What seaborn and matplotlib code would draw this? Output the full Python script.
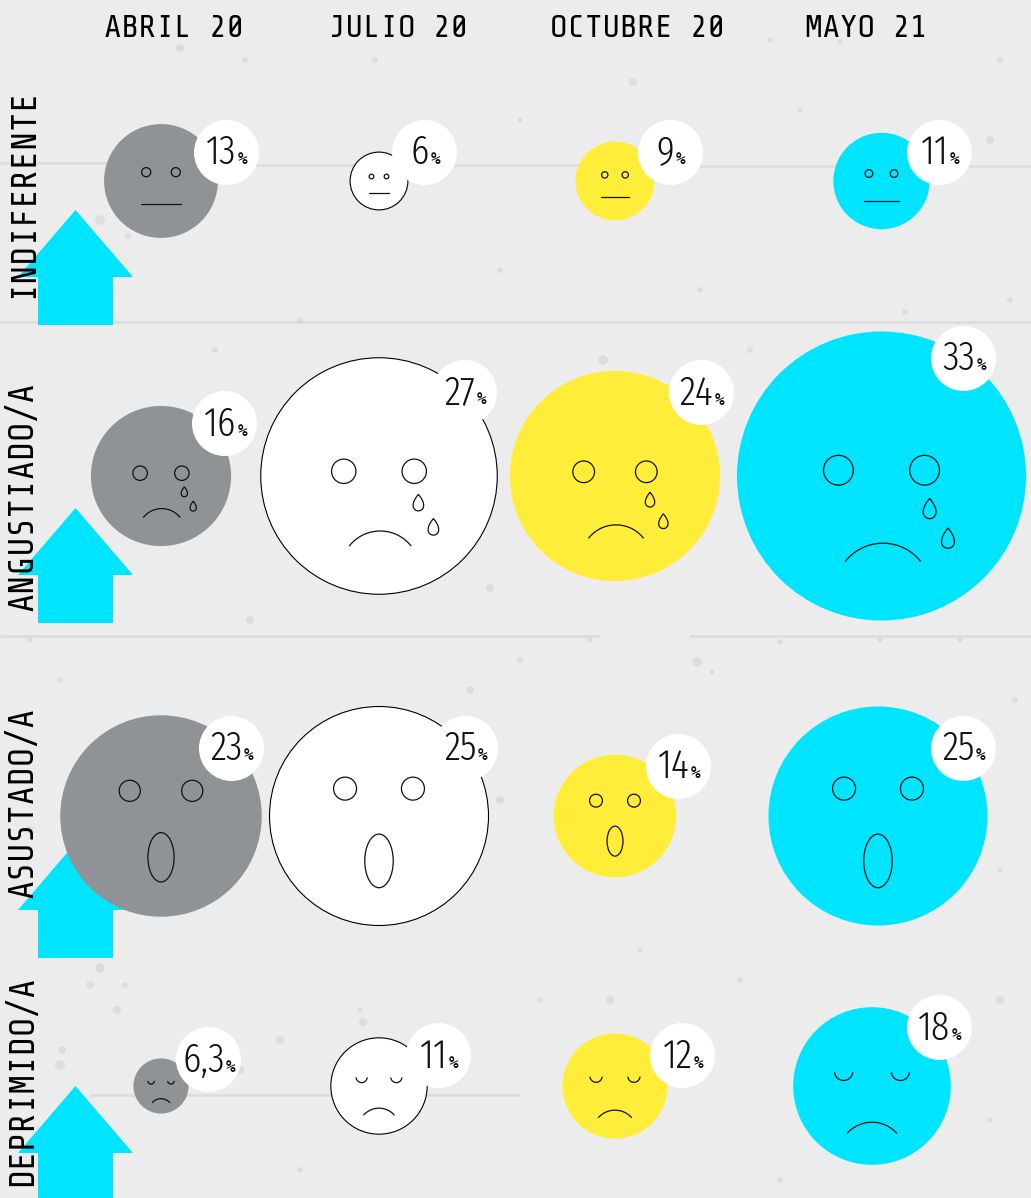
import numpy as np
import pandas as pd
import seaborn as sns
import matplotlib
matplotlib.use("Agg")
import matplotlib.pyplot as plt
from matplotlib.patches import Circle, Ellipse, Polygon

# ---- data ----
periods = ["ABRIL 20", "JULIO 20", "OCTUBRE 20", "MAYO 21"]
emotions = ["INDIFERENTE", "ANGUSTIADO/A", "ASUSTADO/A", "DEPRIMIDO/A"]
indiferente = [13, 6.6, 9, 11]   # the 6 % bubble is drawn a little larger than its label
angustiado = [16, 27, 24, 33]
asustado = [23, 25, 14, 25]
deprimido = [6.3, 11, 12, 18]
value_labels = [["13", "6", "9", "11"], ["16", "27", "24", "33"],
                ["23", "25", "14", "25"], ["6,3", "11", "12", "18"]]
colors = ["#909396", "#FFFFFF", "#FFED3A", "#00E5FF"]

# ---- layout (pixels of the figure) ----
W, H = 1031, 1198
col_x = [161, 379, 615, 881.5]
row_y = [181, 476, 816, 1086]
col4_nudge = [0, 0, -3.5, -9.5]
px_per_unit = 4.38         # bubble radius per percentage point
badge_r = 32.5
badge_x = [[225.5, 424, 669.5, 938.5], [224, 463.5, 700.5, 962.5],
           [230.5, 464.5, 677.5, 962.5], [207.5, 437.5, 681.5, 938.5]]
badge_y = [[151.5, 151.5, 151.5, 151.5], [422.5, 391.5, 392, 357.5],
           [747.5, 747.5, 765.5, 747.5], [1059, 1055, 1054.5, 1026.5]]
arrow_tip_y = [210, 508, 843, 1086]
joints = [(0, 110, 163), (255, 610, 165), (700, 1031, 166), (0, 1031, 322), (0, 600, 636),
          (690, 1031, 636), (90, 520, 1095)]
stains = [(633, 82, 4), (100, 968, 5), (90, 985, 4), (60, 1065, 5), (62, 1050, 4), (603, 360, 5),
          (490, 588, 4), (905, 312, 3), (750, 350, 3), (697, 662, 5), (712, 672, 3), (1000, 870, 3),
          (500, 800, 4), (245, 60, 3), (180, 48, 4), (770, 40, 3), (100, 220, 5), (128, 236, 3),
          (360, 1010, 3), (610, 1000, 4), (780, 642, 3), (30, 830, 4), (990, 1120, 3), (300, 1170, 3),
          (117, 1010, 4), (125, 985, 3), (240, 1070, 4), (280, 1040, 4), (363, 1022, 4), (375, 60, 3),
          (520, 120, 3), (840, 42, 3), (960, 640, 3), (1015, 700, 3), (990, 140, 4), (1010, 300, 3),
          (590, 640, 3), (520, 660, 3), (470, 690, 4), (30, 640, 3), (60, 680, 3), (250, 620, 4),
          (640, 950, 3), (740, 980, 3), (540, 1000, 3), (780, 1180, 3), (1000, 1000, 4), (880, 640, 3),
          (215, 350, 3), (300, 320, 3), (500, 270, 3), (700, 290, 3), (800, 110, 3), (1000, 60, 3)]

px = 0.72  # points per pixel at dpi 100
sns.set_theme(style="white")
fig = plt.figure(figsize=(W / 100, H / 100), dpi=100, facecolor="#ECECEC")
ax = fig.add_axes([0, 0, 1, 1])

rows = [indiferente, angustiado, asustado, deprimido]
recs = []
for i, vals in enumerate(rows):
    for j, v in enumerate(vals):
        x = col_x[j] + (col4_nudge[i] if j == 3 else 0)
        recs.append(dict(emotion=emotions[i], period=periods[j], value=v, x=x,
                         y=row_y[i], r=v * px_per_unit, row=i, col=j,
                         bx=badge_x[i][j], by=badge_y[i][j],
                         area=v ** 2, label=value_labels[i][j]))
df = pd.DataFrame(recs)

# background joints and stains
for x0, x1, y in joints:
    ax.hlines(y, x0, x1, color="#BDBDBD", lw=1.8, alpha=0.35, zorder=0.5)
sx, sy, sr = zip(*stains)
ax.scatter(sx, sy, s=[(2 * r * px) ** 2 for r in sr], color="#ABABAB", alpha=0.22,
           linewidths=0, zorder=0.6)

# arrows
for tip in arrow_tip_y:
    ax.add_patch(Polygon([(75.5, tip), (133, tip + 67), (113, tip + 67), (113, tip + 115),
                          (38, tip + 115), (38, tip + 67), (18, tip + 67)],
                         closed=True, fc="#00E5FF", ec="none", zorder=1))

# bubbles
amin, amax = df.area.min(), df.area.max()
smin = (2 * np.sqrt(amin) * px_per_unit * px) ** 2
smax = (2 * np.sqrt(amax) * px_per_unit * px) ** 2
for j, p in enumerate(periods):
    sub = df[df.period == p]
    sns.scatterplot(data=sub, x="x", y="y", size="area", sizes=(smin, smax),
                    size_norm=(amin, amax), color=colors[j], ax=ax, legend=False,
                    edgecolor="black" if j == 1 else "none",
                    linewidth=0.8 if j == 1 else 0, zorder=2)

# badges
sns.scatterplot(data=df, x="bx", y="by", s=(2 * badge_r * px) ** 2, color="white",
                linewidth=0, ax=ax, legend=False, zorder=4)

# faces
lw = 0.9
ink = "#111111"


def curve(cx, base, half, rise):
    """Circular arc; rise>0 goes upward on screen."""
    R = (half ** 2 + rise ** 2) / (2 * abs(rise))
    a = np.arcsin(half / R)
    t = np.linspace(-a, a, 40)
    sign = 1 if rise > 0 else -1
    return cx + R * np.sin(t), base - sign * (R * np.cos(t) - R * np.cos(a))


def tear(cx, cy, r):
    t = np.linspace(0, 2 * np.pi, 50)
    return np.c_[cx + 0.058 * r * np.sin(t) * np.sin(t / 2) ** 1.0,
                 cy - 0.07 * r * np.cos(t)]


for rec in df.itertuples():
    x, y, r = rec.x, rec.y, rec.r
    kw = dict(fill=False, ec=ink, lw=lw, zorder=3)
    if rec.row == 0:
        for s in (-1, 1):
            ax.add_patch(Circle((x + s * 0.26 * r, y - 0.155 * r), 0.08 * r, **kw))
        ax.plot([x - 0.355 * r, x + 0.355 * r], [y + 0.41 * r] * 2, color=ink, lw=lw, zorder=3)
    elif rec.row == 1:
        for s in (-1, 1):
            ax.add_patch(Circle((x + s * 0.298 * r, y - 0.04 * r), 0.103 * r, **kw))
        mx, my = curve(x + 0.01 * r, y + 0.59 * r, 0.26 * r, 0.125 * r)
        ax.plot(mx, my, color=ink, lw=lw, zorder=3)
        ax.add_patch(Polygon(tear(x + 0.333 * r, y + 0.225 * r, r), closed=True, **kw))
        ax.add_patch(Polygon(tear(x + 0.46 * r, y + 0.43 * r, r), closed=True, **kw))
    elif rec.row == 2:
        for s in (-1, 1):
            ax.add_patch(Circle((x + s * 0.31 * r, y - 0.25 * r), 0.105 * r, **kw))
        ax.add_patch(Ellipse((x, y + 0.41 * r), 0.26 * r, 0.49 * r, **kw))
    else:
        for s in (-1, 1):
            ex, ey = curve(x + s * 0.36 * r, y - 0.17 * r, 0.115 * r, -0.1 * r)
            ax.plot(ex, ey, color=ink, lw=lw, zorder=3)
        mx, my = curve(x, y + 0.6 * r, 0.315 * r, 0.14 * r)
        ax.plot(mx, my, color=ink, lw=lw, zorder=3)

# axes frame in pixel coordinates
ax.set_xlim(0, W)
ax.set_ylim(H, 0)
ax.set_axis_off()

# badge text
num_font = ["Fira Sans Extra Condensed", "Liberation Sans"]
mono_font = ["Share Tech Mono", "DejaVu Sans Mono"]
rend = fig.canvas.get_renderer()
for rec in df.itertuples():
    base = rec.by + 13
    n = ax.text(rec.bx, base, rec.label, family=num_font, fontweight=300, fontsize=41 * px,
                color=ink, ha="left", va="baseline", zorder=5)
    p = ax.text(rec.bx, base, "%", family="DejaVu Sans Mono", fontweight="bold",
                fontsize=16 * px, color=ink, ha="left", va="baseline", zorder=5)
    wn = n.get_window_extent(rend).width
    wp = p.get_window_extent(rend).width
    start = rec.bx - (wn + 1.5 + wp) / 2 + 1.5
    n.set_x(start)
    p.set_x(start + wn + 1.5)

# headers and row labels
head_x = [173.5, 398.5, 637, 866.5]
for x, t in zip(head_x, periods):
    ax.text(x, 37, t, family=mono_font, fontsize=32.5 * px, color="black",
            ha="center", va="baseline", zorder=6)
label_bottom = [298, 611, 898, 1186]
for y, t in zip(label_bottom, emotions):
    ax.text(38.5, y, t, family=mono_font, fontsize=35.4 * px, color="black",
            rotation=90, ha="right", va="bottom", zorder=6)

fig.savefig("out.png", dpi=100, facecolor=fig.get_facecolor())
